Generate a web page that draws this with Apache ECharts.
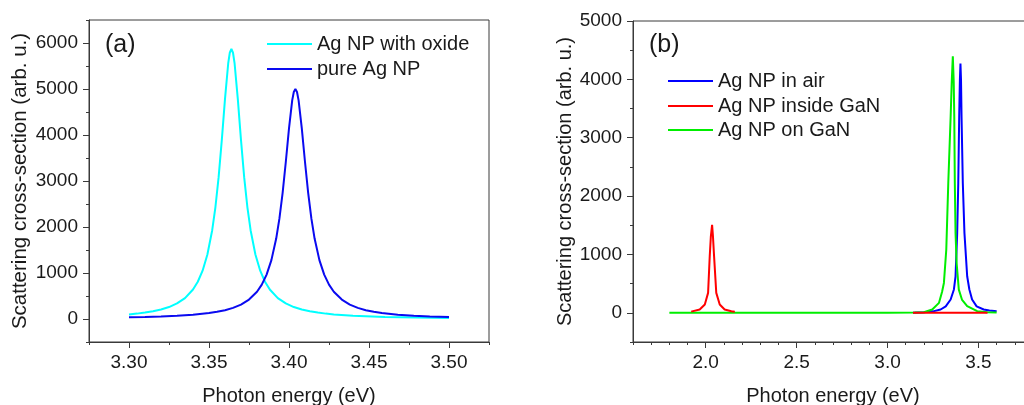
<!DOCTYPE html>
<html>
<head>
<meta charset="utf-8">
<script src="https://cdn.jsdelivr.net/npm/echarts@6/dist/echarts.min.js"></script>
<style>
html,body{margin:0;padding:0;background:#fff;overflow:hidden;}
#main{width:1040px;height:405px;}
</style>
</head>
<body>
<div id="main"></div>
<script>
// ---------- Panel (a) data ----------
const oxideX = [3.300,3.305,3.310,3.315,3.320,3.325,3.330,3.335,3.340,3.343,3.346,3.349,3.352,3.354,3.356,3.358,3.360,3.362,3.363,3.364,3.365,3.366,3.368,3.370,3.372,3.374,3.376,3.379,3.382,3.385,3.388,3.393,3.398,3.403,3.408,3.413,3.418,3.423,3.428,3.440,3.460,3.480,3.500];
const oxideY = [99,117,139,168,206,260,338,454,641,810,1050,1401,1930,2429,3078,3887,4785,5555,5788,5870,5788,5555,4785,3887,3078,2429,1930,1401,1050,810,641,454,338,260,206,168,139,117,99,71,45,31,22];

const pureX = [3.300,3.310,3.320,3.330,3.340,3.350,3.355,3.360,3.365,3.370,3.375,3.380,3.383,3.386,3.389,3.392,3.394,3.396,3.398,3.400,3.402,3.403,3.404,3.405,3.406,3.408,3.410,3.412,3.414,3.416,3.419,3.422,3.425,3.428,3.433,3.438,3.443,3.448,3.453,3.458,3.468,3.478,3.488,3.500];
const pureY = [36,43,54,70,93,129,156,192,242,314,422,593,747,965,1280,1748,2182,2738,3413,4144,4754,4936,5000,4936,4754,4144,3413,2738,2182,1748,1280,965,747,593,422,314,242,192,156,129,93,70,54,42];

// ---------- Panel (b) data ----------
const airX = [3.140,3.200,3.250,3.292,3.320,3.347,3.365,3.374,3.383,3.389,3.394,3.398,3.401,3.404,3.407,3.414,3.423,3.438,3.450,3.465,3.490,3.529,3.560,3.600];
const airY = [0,8,25,57,110,228,400,626,1366,2221,3359,4000,4271,4000,3359,2221,1366,626,400,228,110,57,40,25];

const insideX = [1.920,1.931,1.967,1.995,2.013,2.022,2.028,2.035,2.040,2.046,2.058,2.077,2.104,2.141,2.160,2.165,3.140,3.300,3.400,3.550];
const insideY = [20,27,56,142,342,967,1300,1509,1300,967,342,142,56,27,20,null,0,0,0,0];

const onGaNX = [1.800,2.400,3.000,3.150,3.200,3.246,3.283,3.300,3.310,3.323,3.334,3.347,3.353,3.359,3.364,3.367,3.370,3.374,3.380,3.392,3.410,3.438,3.493,3.550,3.600];
const onGaNY = [0,0,0,5,10,57,171,360,512,1081,2221,3359,3950,4396,3950,3359,2221,1366,850,398,220,114,28,10,5];

// ---------- Tick values ----------
const aXLabels = [3.30,3.35,3.40,3.45,3.50];
const aXMinor = [3.275,3.325,3.375,3.425,3.475,3.525];
const aYLabels = [0,1000,2000,3000,4000,5000,6000];
const aYMinor = [-500,500,1500,2500,3500,4500,5500,6500];
const bXLabels = [2.0,2.5,3.0,3.5];
const bXMinor = [1.6,1.7,1.8,1.9,2.1,2.2,2.3,2.4,2.6,2.7,2.8,2.9,3.1,3.2,3.3,3.4,3.6,3.7,3.8];
const bYLabels = [0,1000,2000,3000,4000,5000];
const bYMinor = [-500,500,1500,2500,3500,4500];

const zip = (xs, ys) => xs.map((x, i) => [x, ys[i]]);

const FONT = '"Liberation Sans", Arial, sans-serif';
const TXT = '#1a1a1a';
const AX = '#3a3a3a';

function majorAxis(extra) {
  return Object.assign({
    type: 'value',
    axisLine: {show: true, onZero: false, lineStyle: {color: AX, width: 1}},
    splitLine: {show: false},
    axisLabel: {fontFamily: FONT, fontSize: 19, color: TXT},
    axisTick: {show: true, inside: false, length: 6, lineStyle: {color: AX}},
    nameTextStyle: {fontFamily: FONT, fontSize: 20, color: TXT},
    nameLocation: 'middle'
  }, extra);
}
function minorAxis(extra, vals) {
  return Object.assign({
    type: 'value',
    axisLine: {show: false, onZero: false},
    splitLine: {show: false},
    axisLabel: {show: false},
    axisTick: {show: true, inside: false, length: 3, customValues: vals, lineStyle: {color: AX}}
  }, extra);
}

const chart = echarts.init(document.getElementById('main'), null, {renderer: 'canvas'});

const lineSeries = (name, data, color, xi, yi) => ({
  name, type: 'line', data, xAxisIndex: xi, yAxisIndex: yi,
  showSymbol: false, symbol: 'none', connectNulls: false,
  lineStyle: {color, width: 2}, itemStyle: {color},
  emphasis: {disabled: true}, animation: false
});

const legendItem = (name, left, top) => ({
  data: [name], left, top, orient: 'vertical', padding: 0,
  icon: 'rect', itemWidth: 45, itemHeight: 2, itemGap: 0,
  selectedMode: false,
  textStyle: {fontFamily: FONT, fontSize: 20, color: TXT, padding: [0,0,0,0]}
});

const plain = v => String(Math.round(v));

chart.setOption({
  animation: false,
  backgroundColor: '#fff',
  grid: [
    {left: 89, top: 20, width: 400, height: 322, show: true, borderColor: AX, borderWidth: 1, backgroundColor: 'transparent', containLabel: false, outerBoundsMode: 'none'},
    {left: 633, top: 21, width: 400, height: 321, show: true, borderColor: AX, borderWidth: 1, backgroundColor: 'transparent', containLabel: false, outerBoundsMode: 'none'}
  ],
  xAxis: [
    majorAxis({gridIndex: 0, position: 'bottom', min: 3.275, max: 3.525,
      name: 'Photon energy (eV)', nameGap: 44,
      axisLabel: {fontFamily: FONT, fontSize: 19, color: TXT, margin: 11, customValues: aXLabels, formatter: v => v.toFixed(2)},
      axisTick: {show: true, length: 6, customValues: aXLabels, lineStyle: {color: AX}}}),
    minorAxis({gridIndex: 0, position: 'bottom', min: 3.275, max: 3.525}, aXMinor),
    majorAxis({gridIndex: 1, position: 'bottom', min: 1.6, max: 3.8,
      name: 'Photon energy (eV)', nameGap: 44,
      axisLabel: {fontFamily: FONT, fontSize: 19, color: TXT, margin: 11, customValues: bXLabels, formatter: v => v.toFixed(1)},
      axisTick: {show: true, length: 6, customValues: bXLabels, lineStyle: {color: AX}}}),
    minorAxis({gridIndex: 1, position: 'bottom', min: 1.6, max: 3.8}, bXMinor)
  ],
  yAxis: [
    majorAxis({gridIndex: 0, position: 'left', min: -500, max: 6500,
      name: 'Scattering cross-section (arb. u.)', nameGap: 58,
      nameTextStyle: {fontFamily: FONT, fontSize: 20.5, color: TXT},
      axisLabel: {fontFamily: FONT, fontSize: 19, color: TXT, margin: 11, customValues: aYLabels, formatter: plain},
      axisTick: {show: true, length: 6, customValues: aYLabels, lineStyle: {color: AX}}}),
    minorAxis({gridIndex: 0, position: 'left', min: -500, max: 6500}, aYMinor),
    majorAxis({gridIndex: 1, position: 'left', min: -500, max: 5000,
      name: 'Scattering cross-section (arb. u.)', nameGap: 58,
      axisLabel: {fontFamily: FONT, fontSize: 19, color: TXT, margin: 11, customValues: bYLabels, formatter: plain},
      axisTick: {show: true, length: 6, customValues: bYLabels, lineStyle: {color: AX}}}),
    minorAxis({gridIndex: 1, position: 'left', min: -500, max: 5000}, bYMinor)
  ],
  legend: [
    legendItem('Ag NP with oxide', 267, 34),
    legendItem('pure Ag NP', 267, 59),
    legendItem('Ag NP in air', 668, 71),
    legendItem('Ag NP inside GaN', 668, 96),
    legendItem('Ag NP on GaN', 668, 120)
  ],
  graphic: [
    {type: 'text', left: 105, top: 33, style: {text: '(a)', font: '25px ' + FONT, fill: TXT}},
    {type: 'text', left: 649, top: 33, style: {text: '(b)', font: '25px ' + FONT, fill: TXT}}
  ],
  series: [
    lineSeries('Ag NP with oxide', zip(oxideX, oxideY), '#00FFFF', 0, 0),
    lineSeries('pure Ag NP', zip(pureX, pureY), '#0A0AF0', 0, 0),
    lineSeries('Ag NP in air', zip(airX, airY), '#0000FF', 2, 2),
    lineSeries('Ag NP on GaN', zip(onGaNX, onGaNY), '#00EE00', 2, 2),
    lineSeries('Ag NP inside GaN', zip(insideX, insideY), '#FF0000', 2, 2)
  ]
});
</script>
</body>
</html>
